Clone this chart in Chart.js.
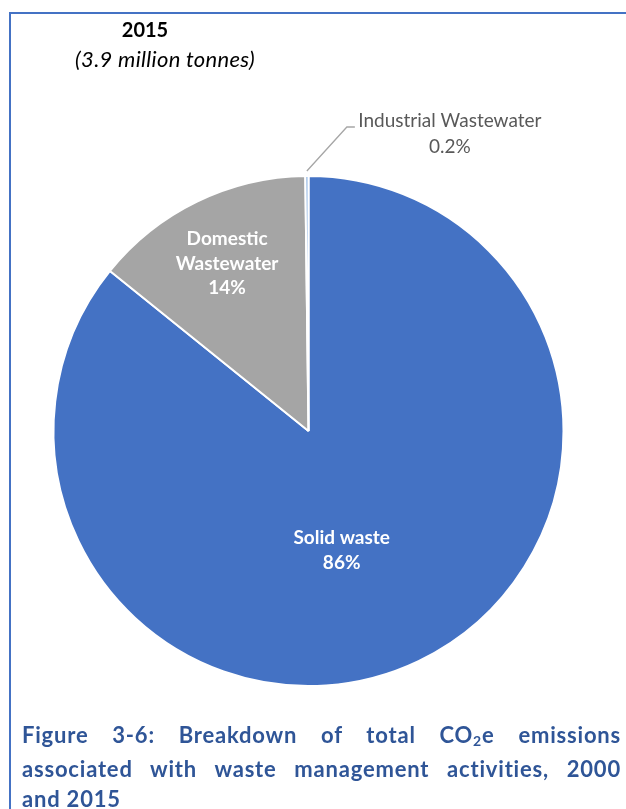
<!DOCTYPE html>
<html>
<head>
<meta charset="utf-8">
<script src="https://cdn.jsdelivr.net/npm/chart.js@4.4.1/dist/chart.umd.min.js"></script>
<style>
  html, body { margin: 0; padding: 0; background: #fff; }
  body { width: 626px; height: 809px; position: relative; overflow: hidden; font-family: Lato, "Noto Sans", sans-serif; }
  .frame { position: absolute; left: 9px; top: 12px; right: -5px; bottom: -5px; border-top: 2px solid #4472C4; border-left: 2px solid #4472C4; }
  #chart { position: absolute; left: 0; top: 0; }
  .year { position: absolute; left: 100px; width: 90px; top: 17px; text-align: center; font-weight: bold; font-size: 20px; color: #000; }
  .total { position: absolute; left: 15px; width: 300px; top: 45px; text-align: center; font-style: italic; font-size: 22px; letter-spacing: 0.3px; color: #000; }
  .caption { position: absolute; left: 22px; width: 599px; top: 720px; font-weight: bold; font-size: 22px; letter-spacing: 0.8px; line-height: 30.5px; color: #2F5597; }
  .caption .j { text-align: justify; text-align-last: justify; }
  .caption sub { font-size: 14px; vertical-align: baseline; position: relative; top: 3px; }
</style>
</head>
<body>
<div class="frame"></div>
<canvas id="chart" width="626" height="809"></canvas>
<div class="year">2015</div>
<div class="total">(3.9 million tonnes)</div>
<div class="caption">
  <div class="j">Figure 3-6: Breakdown of total CO<sub>2</sub>e emissions</div>
  <div class="j">associated with waste management activities, 2000</div>
  <div>and 2015</div>
</div>
<script>
// 2015 waste emissions shares (%)
const categories = ['Solid waste', 'Domestic Wastewater', 'Industrial Wastewater'];
const shares = [85.8, 14.0, 0.2];
const sliceColors = ['#4472C4', '#A5A5A5', '#8EB4E3'];

// inside labels: fraction of radius and angle shift (deg), null = outside label with leader
const labelPlace = [
  { r: 0.485, shift: 10 },
  { r: 0.73, shift: 0 },
  null
];

function pctText(v, total) {
  const p = v / total * 100;
  return p >= 1 ? Math.round(p) + '%' : p.toFixed(1) + '%';
}

const sliceLabels = {
  id: 'sliceLabels',
  afterDatasetsDraw(chart) {
    const ctx = chart.ctx;
    const meta = chart.getDatasetMeta(0);
    const total = shares.reduce((a, b) => a + b, 0);
    meta.data.forEach((arc, i) => {
      const p = arc.getProps(['x', 'y', 'startAngle', 'endAngle', 'outerRadius'], true);
      const mid = (p.startAngle + p.endAngle) / 2;
      const name = categories[i];
      const pct = pctText(shares[i], total);
      ctx.save();
      ctx.textAlign = 'center';
      ctx.textBaseline = 'middle';
      const place = labelPlace[i];
      if (place) {
        const a = mid + place.shift * Math.PI / 180;
        const cx = p.x + Math.cos(a) * p.outerRadius * place.r;
        const cy = p.y + Math.sin(a) * p.outerRadius * place.r;
        const lines = name.length > 12 ? name.split(' ') : [name];
        lines.push(pct);
        const lh = 24.5;
        ctx.fillStyle = '#fff';
        ctx.font = 'bold 19px Lato, "Noto Sans", sans-serif';
        lines.forEach((t, k) => {
          ctx.fillText(t, cx, cy + (k - (lines.length - 1) / 2) * lh);
        });
      } else {
        // leader line going up-right to the label
        const x0 = p.x + Math.cos(mid) * (p.outerRadius + 5);
        const y0 = p.y + Math.sin(mid) * (p.outerRadius + 5);
        const ex = x0 + 40, ey = y0 - 44;
        ctx.strokeStyle = '#A6A6A6';
        ctx.lineWidth = 1.3;
        ctx.beginPath();
        ctx.moveTo(x0, y0);
        ctx.lineTo(ex, ey);
        ctx.lineTo(ex + 8, ey);
        ctx.stroke();
        ctx.fillStyle = '#595959';
        ctx.font = '19px Lato, "Noto Sans", sans-serif';
        const tx = ex + 103;
        ctx.fillText(name, tx, ey - 6);
        ctx.fillText(pct, tx, ey + 20);
      }
      ctx.restore();
    });
  }
};

new Chart(document.getElementById('chart'), {
  type: 'pie',
  data: {
    labels: categories,
    datasets: [{
      data: shares,
      backgroundColor: sliceColors,
      borderColor: '#ffffff',
      borderWidth: 2
    }]
  },
  options: {
    responsive: false,
    animation: false,
    layout: { padding: { left: 52, right: 61, top: 175, bottom: 122 } },
    plugins: {
      legend: { display: false },
      title: { display: false },
      tooltip: { enabled: false }
    }
  },
  plugins: [sliceLabels]
});
</script>
</body>
</html>
